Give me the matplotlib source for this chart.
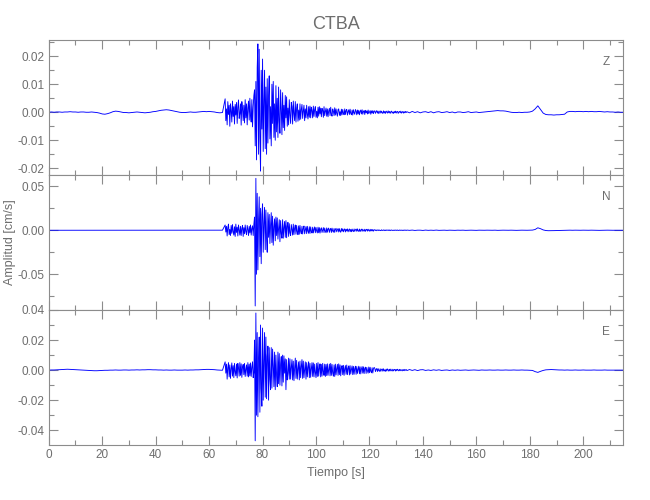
import numpy as np
import matplotlib
matplotlib.use("Agg")
import matplotlib.pyplot as plt
from matplotlib.ticker import MultipleLocator, FormatStrFormatter

plt.rcParams['font.family'] = ['Liberation Sans', 'DejaVu Sans']
plt.rcParams['axes.unicode_minus'] = True

# amplitudes, in units of 1e-4 cm/s
# quiet part 0-65 s every 1 s, burst from 66 s every 0.25 s, tail every 1 s up to 215 s
z_quiet = [0, 1, 0, 1, 1, 0, 1, 1, 2, 1,
           1, 0, 1, 1, 0, 0, 1, 0, -1, -3,
           -6, -7, -5, -2, 2, 4, 3, 1, -1, -1,
           -2, -1, 0, 1, 0, -1, -2, -1, 0, 2,
           3, 5, 7, 8, 9, 8, 6, 4, 2, 0,
           -1, -1, 0, 1, 0, 0, 1, 2, 3, 2,
           3, 2, 1, -1, -2, -1]
z_burst = [48, -30, 12, -45, 38, -8, 25, -50, 30, 5, -35, 40, -15, 20, -42, 28,
           -10, 35, -40, 18, 44, -22, -5, 30, -46, 38, 12, -30, 25, -38, 45, -20,
           30, -45, 15, 40, -28, 50, -12, -35, 45, -52, 20, 60, 80, -120, 110, -170,
           160, 244, -150, 225, -90, -210, 150, -60, 190, -140, 40, 150, -130, 90, -150, 120,
           -110, 60, 130, -95, 20, -120, 100, -40, 110, -90, 30, -100, 95, -70, 50, -90,
           90, -30, -75, 80, 10, -80, 70, -55, 25, -65, 60, -20, 55, -50, 15, -45,
           45, -10, -40, 35, 20, -42, 40, -5, -30, 38, -35, 15, 30, -32, 8, -28,
           30, -25, 10, 28, -22, 5, 25, -30, 12, -20, 25, -8, -24, 20, -18, 22,
           -20, 18, 6, -20, 22, -15, 10, 20, -18, 4, -20, 18, -14, 20, -6, 15,
           -16, 14, 8, -18, 20, -12, 3, 15, -14, 12, -16, 5, 14, -12, 18, -8,
           -14, 12, 4, -12, 16, -10, 12, -4, -14, 10, 12, -11, 2, -12, 11, -9,
           10, -3, -9, 12, -8, 6, 10, -10, 2, 9, -8, 11, -4, -9, 8, -10,
           9, -2, -7, 10, 4, -9, 8, -6, 7, -9, 3, 8, -6, 9, -7, 2,
           6, -8, 7, -2, 5, -6, 8, -5, 1, 6, -7, 5, -3, 6, -5, 4,
           5, -4, 2, 6, -3, 4, -5, 1, 5, -3, 4, -2, -4, 5, -3, 3,
           -4, 4, 1, -3, 5, -2, 3, -4, 2, 4, -3, 1, -4, 3, -2, 4,
           -3, 2, 3, -4, 1, 3, -2, 4, -3, 0, 3, -3, 2, -2, 3, -1]
z_tail = [2, -2, 3, -1, 2, -2, 1, 2, -1, 2,
          -2, 1, 2, -1, 0, 2, -1, 1, -2, 1,
          1, -1, 0, 2, -1, 0, 1, -1, 0, 1,
          2, 3, 4, 5, 6, 5, 5, 4, 2, 0,
          -1, -1, 0, -1, 0, 0, 1, 4, 12, 23,
          10, -3, -8, -9, -9, -10, -9, -9, -8, -7,
          1, 3, 3, 2, 3, 3, 2, 3, 2, 3,
          2, 2, 3, 2, 1, 2, 1, 1, 0, 1,
          0, 0]

n_quiet = [0, 0, 1, 0, 0, 0, -1, 0, 0, 1,
           0, 0, 0, 1, 0, 0, 0, -1, 0, 0,
           0, 1, 0, 0, 0, 0, 1, 0, 0, 0,
           -1, 0, 0, 0, 1, 0, 0, 0, 0, 1,
           0, 0, 1, 0, 0, -1, 0, 0, 1, 0,
           0, 0, 0, 1, 0, 0, 0, 0, 1, 0,
           0, 1, 0, 0, 0, 1]
n_burst = [60, -20, 45, -65, 30, 70, -50, 10, -60, 55, -35, 65, -15, -55, 40, -70,
           70, -25, 35, -65, 60, 5, -55, 45, -60, 20, 55, -70, 30, -40, 60, -15,
           -50, 55, 10, -60, 45, -30, 60, -55, 20, 50, -60, 70, 150, -860, 590, -500,
           420, -450, 120, 380, -300, 250, -380, 180, 300, -250, 80, 260, -220, 230, -100, -250,
           200, -80, 180, -150, 60, 200, -140, 160, -170, 40, 130, -120, 150, -60, 140, -100,
           20, 120, -130, 110, -40, -90, 120, -90, 30, 100, -80, 110, -85, 50, 90, -70,
           75, -30, -60, 65, 10, -55, 70, -50, 25, 60, -45, 55, -20, -50, 50, -45,
           55, -15, -40, 45, -42, 20, 48, -40, 5, 42, -38, 45, -10, -35, 40, -36,
           38, -12, -32, 35, -30, 10, 38, -28, 32, -8, -30, 35, -28, 30, -32, 12,
           28, -25, 5, 30, -26, 25, -10, -28, 27, -22, 15, 25, -24, 8, 22, -25,
           24, -8, -22, 20, -24, 10, 22, -18, 5, 20, -20, 18, -12, -22, 20, -10,
           17, -18, 6, 16, -19, 12, -8, 16, -18, 4, 15, -16, 10, -17, 14, -6,
           -15, 15, -13, 5, 14, -12, 16, -8, -12, 14, -15, 3, 13, -12, 12, -4,
           -11, 12, -12, 6, 11, -10, 12, -3, -10, 11, -9, 8, -8, 9, -10, 4,
           6, -3, 4, -5, 2, 5, -4, 3, -2, -4, 5, -3, 1, 4, -4, 3,
           -3, 4, -2, 1, 4, -3, 3, -4, 2, 3, -3, 1, -2, 3, -3, 2,
           2, -3, 3, -1, -2, 3, -2, 2, 1, -3, 2, -2, 3, -1, 2, -2]
n_tail = [2, -1, 2, -2, 1, 1, -2, 2, -1, 1,
          -1, 2, -1, 0, 1, -1, 1, 0, -1, 1,
          0, 1, -1, 0, 1, 0, -1, 1, 0, 0,
          1, 0, 0, 1, -1, 0, 1, 0, 0, 1,
          0, -1, 0, 1, 0, 0, 1, 2, 9, 28,
          18, 4, -3, -5, -5, -4, -3, -3, -2, -1,
          0, 1, 0, 1, 0, 0, 1, 0, 0, 1,
          0, 0, -1, 0, 0, 1, 0, 0, 0, 1,
          0, 0]

e_quiet = [0, 1, 1, 2, 3, 4, 5, 6, 5, 4,
           3, 2, 1, 0, -1, -2, -3, -4, -4, -3,
           -2, -1, -1, 0, 0, 1, 0, 0, 1, 1,
           0, 1, 1, 2, 1, 2, 2, 3, 3, 2,
           2, 1, 1, 0, 1, 0, 0, 1, 0, 0,
           0, 1, 0, 1, 1, 2, 2, 3, 4, 5,
           5, 4, 3, 1, 0, -1]
e_burst = [55, -20, 40, -60, 15, 50, -45, 35, -55, 8, 48, -40, 30, -50, 45, -10,
           -38, 40, -52, 45, 12, -40, 50, -35, 42, -48, 20, 38, -30, 45, -42, 5,
           35, -40, 50, -45, 40, -38, 48, -42, 20, 55, -50, -15, 200, -470, 380, -300,
           250, -310, 80, 220, -280, 300, -120, -240, 280, -200, 60, 250, -180, 220, -190, 90,
           160, -200, 150, -60, -130, 150, -120, 140, 30, -110, 120, -130, 100, -40, -110, 120,
           -90, 110, -100, 40, 90, -105, 100, -80, 95, -20, 75, -130, 70, -65, -20, 80,
           -60, 75, -60, 20, 70, -65, 60, -70, 15, 80, -55, 65, -60, 10, 55, -65,
           60, -50, 25, 70, -55, 60, -50, 5, 55, -60, 50, -45, 20, 55, -50, 45,
           -48, 10, 50, -42, 48, -45, 40, -15, -50, 45, -42, 50, -40, 12, 42, -45,
           38, -40, 45, -10, -35, 40, -42, 38, -36, 42, -35, 5, 40, -38, 45, -35,
           38, -20, -40, 35, -42, 40, -32, 10, 38, -35, 42, -30, 35, -38, 15, 30,
           -30, 32, -35, 8, 30, -28, 34, -30, 12, 28, -32, 30, -26, 5, 28, -30,
           25, -28, 10, 26, -28, 24, -22, 5, 26, -24, 22, -25, 8, 24, -20, 22,
           -23, 12, 20, -22, 18, -5, -20, 21, -17, 19, -8, -18, 16, -19, 10, 18,
           12, -10, 5, 11, -9, 10, -3, -8, 9, -8, 4, 8, -7, 9, -6, 2,
           -8, 7, -6, 8, 2, -7, 6, -5, 7, -2, -6, 6, -5, 3, 5, -6,
           5, -4, 6, 1, -5, 5, -4, 4, -1, -5, 4, -3, 5, -4, 2, 4]
e_tail = [-3, 4, -2, 3, -3, 2, 3, -2, 1, -2,
          2, -1, 2, -2, 0, 1, -2, 1, -1, 1,
          -1, 0, 1, -1, 0, 1, 0, -1, 1, 0,
          0, 1, 0, 0, 1, 0, 0, 1, 0, 0,
          1, 0, 0, 1, 0, 0, -1, -2, -10, -15,
          -8, -2, 2, 3, 4, 3, 2, 1, 1, 0,
          1, 0, 0, 1, 0, 0, 1, 0, 0, 0,
          1, 0, 0, 0, 1, 0, 0, 0, 0, 0,
          0, 0]

components = ['Z', 'N', 'E']
ylims = [(-0.0224, 0.0258), (-0.0906, 0.0628), (-0.0498, 0.040)]
ymajor = [0.01, 0.05, 0.02]


def trace(quiet, burst, tail):
    t_end_burst = 66 + 0.25 * len(burst)
    t = np.concatenate([np.arange(len(quiet)) * 1.0,
                        66 + 0.25 * np.arange(len(burst)),
                        t_end_burst + np.arange(len(tail)) * 1.0])
    a = np.array(quiet + burst + tail) * 1e-4
    return t, a


traces = [trace(z_quiet, z_burst, z_tail),
          trace(n_quiet, n_burst, n_tail),
          trace(e_quiet, e_burst, e_tail)]

gray = '#8c8c8c'
tcol = '#6e6e6e'

fig, axes = plt.subplots(3, 1, figsize=(6.5, 5), dpi=100, sharex=True)
fig.subplots_adjust(left=0.075, right=0.959, top=0.92, bottom=0.11, hspace=0)

for i, ax in enumerate(axes):
    t, a = traces[i]
    ax.plot(t, a, color='#0000ff', lw=0.65)
    ax.set_xlim(0, 215)
    ax.set_ylim(*ylims[i])
    ax.xaxis.set_major_locator(MultipleLocator(20))
    ax.xaxis.set_minor_locator(MultipleLocator(10))
    ax.yaxis.set_major_locator(MultipleLocator(ymajor[i]))
    ax.yaxis.set_minor_locator(MultipleLocator(ymajor[i] / 2))
    ax.yaxis.set_major_formatter(FormatStrFormatter('%.2f'))
    ax.tick_params(which='both', direction='in', top=True, right=True,
                   color=gray, labelcolor=tcol, labelsize=8.5, pad=3)
    ax.tick_params(which='major', length=6.5, width=0.8)
    ax.tick_params(which='minor', length=3.5, width=0.8)
    for s in ax.spines.values():
        s.set_color(gray)
        s.set_linewidth(0.8)
    ax.text(0.97, 0.84, components[i], transform=ax.transAxes,
            ha='center', va='center', color=tcol, fontsize=8.5)

axes[0].set_title('CTBA', color=tcol, fontsize=13, pad=8)
fig.text(10 / 650, 0.516, 'Amplitud [cm/s]', rotation=90, ha='center', va='center',
         color=tcol, fontsize=9)
axes[2].set_xlabel('Tiempo [s]', color=tcol, fontsize=9, labelpad=4)

fig.savefig('out.png', dpi=100)
